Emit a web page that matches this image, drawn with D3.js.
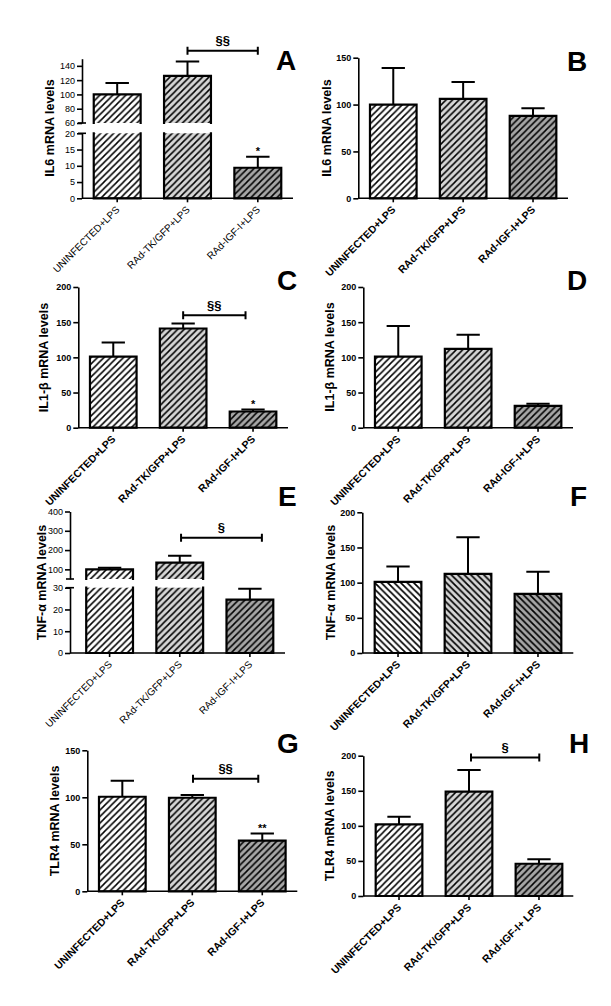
<!DOCTYPE html>
<html><head><meta charset="utf-8">
<script src="https://cdn.jsdelivr.net/npm/d3@7"></script>
<style>body{margin:0;background:#fff} svg{display:block}</style>
</head><body><svg id="c" width="611" height="1006"></svg>
<script>
// ---------- DATA ----------
const categories = ["UNINFECTED+LPS", "RAd-TK/GFP+LPS", "RAd-IGF-I+LPS"];
const categoriesH = ["UNINFECTED+LPS", "RAd-TK/GFP+LPS", "RAd-IGF-I+ LPS"];

const il6A_mean = [100, 126, 9.4],   il6A_sem = [16, 20, 3.4];
const il6B_mean = [100, 106, 88],    il6B_sem = [39, 18, 8];
const il1bC_mean = [101, 141, 23],   il1bC_sem = [20, 7, 3];
const il1bD_mean = [101, 112, 31],   il1bD_sem = [43.5, 20, 3];
const tnfE_mean = [100, 135, 24.5],  tnfE_sem = [8, 35, 5];
const tnfF_mean = [101, 112.5, 84],  tnfF_sem = [22, 52, 31.5];
const tlr4G_mean = [100.6, 99.5, 54], tlr4G_sem = [17, 3, 7.5];
const tlr4H_mean = [102, 148.7, 46], tlr4H_sem = [11, 31, 6.5];

const ticksA_low = [0, 5, 10, 15, 20], ticksA_high = [60, 80, 100, 120, 140];
const ticksE_low = [0, 10, 20, 30],   ticksE_high = [100, 200, 300, 400];
const ticks150 = [0, 50, 100, 150];
const ticks200 = [0, 50, 100, 150, 200];

const domA_low = [0, 20], domA_high = [60, 150];
const domE_low = [0, 30], domE_high = [50, 400];

const starsA = ["", "", "*"], starsC = ["", "", "*"], starsG = ["", "", "**"];

// ---------- DRAWING ----------
const FONT = "'Liberation Sans', Arial, Helvetica, sans-serif";
const svg = d3.select("#c");
const defs = svg.append("defs");
const fills = ["#ffffff", "#d6d6d6", "#a6a6a6"];
const HS = 6.5;
["fwd", "back"].forEach(dir => fills.forEach((f, i) => {
  const p = defs.append("pattern").attr("id", `h-${dir}-${i}`)
    .attr("patternUnits", "userSpaceOnUse").attr("width", HS).attr("height", HS);
  p.append("rect").attr("width", HS).attr("height", HS).attr("fill", f);
  const d = dir === "fwd"
    ? `M0,${HS} L${HS},0 M${-HS/2},${HS/2} L${HS/2},${-HS/2} M${HS/2},${HS*1.5} L${HS*1.5},${HS/2}`
    : `M0,0 L${HS},${HS} M${-HS/2},${HS/2} L${HS/2},${HS*1.5} M${HS/2},${-HS/2} L${HS*1.5},${HS/2}`;
  p.append("path").attr("d", d).attr("stroke", "#000").attr("stroke-width", dir === "fwd" ? 1.5 : 1.7);
}));

function drawPanel(P) {
  const g = svg.append("g");
  const weight = P.bold ? "bold" : "normal";
  const x = d3.scaleBand().domain(P.cats).range(P.band).paddingInner(0.333).paddingOuter(0.167);
  const bw = x.bandwidth();
  const segs = P.segs.map(s => ({ ...s, scale: d3.scaleLinear().domain(s.domain).range(s.range) }));
  const yBase = segs[0].scale(0);
  const segFor = v => segs.find(s => v <= s.domain[1]) || segs[segs.length - 1];
  const y = v => segFor(v).scale(v);

  // bars
  P.mean.forEach((v, i) => {
    const x0 = x(P.cats[i]), x1 = x0 + bw;
    segs.forEach((s, si) => {
      if (si > 0 && v <= s.domain[0]) return;
      const lo = si === 0 ? 0 : s.domain[0];
      const hi = Math.min(v, s.domain[1]);
      if (hi <= lo) return;
      const yb = s.scale(lo), yt = s.scale(hi);
      const topClosed = v <= s.domain[1], botClosed = si === 0;
      g.append("rect").attr("x", x0).attr("y", yt).attr("width", bw).attr("height", yb - yt)
        .attr("fill", `url(#h-${P.hatch}-${i})`);
      let d = `M${x0},${yb} V${yt}` + (topClosed ? ` H${x1}` : ` M${x1},${yt}`) + ` V${yb}` + (botClosed ? ` H${x0}` : "");
      g.append("path").attr("d", d).attr("fill", "none").attr("stroke", "#000")
        .attr("stroke-width", 2.2).attr("stroke-linejoin", "miter").attr("stroke-linecap", "square");
    });
    // error bar
    const cx = x0 + bw / 2, top = y(v + P.sem[i]);
    g.append("path").attr("d", `M${cx},${y(v)} V${top} M${cx - bw / 4},${top} H${cx + bw / 4}`)
      .attr("fill", "none").attr("stroke", "#000").attr("stroke-width", 2);
    if (P.stars && P.stars[i]) {
      g.append("text").attr("x", cx).attr("y", top - 1.5).attr("text-anchor", "middle")
        .attr("font-family", FONT).attr("font-weight", "bold").attr("font-size", 11).text(P.stars[i]);
    }
  });

  // y axis segments
  segs.forEach((s, si) => {
    const ag = g.append("g").attr("transform", `translate(${P.axisX[0]},0)`)
      .call(d3.axisLeft(s.scale).tickValues(s.ticks).tickSize(5).tickSizeOuter(0).tickPadding(2));
    ag.attr("font-family", FONT).attr("font-size", P.tickFont).attr("font-weight", weight);
    ag.select(".domain").attr("stroke", "#000").attr("stroke-width", 1.6);
    ag.selectAll(".tick line").attr("stroke", "#000").attr("stroke-width", 1.6);
    ag.selectAll(".tick text").attr("fill", "#000");
    if (segs.length > 1) {
      const yEnd = si === 0 ? s.range[1] : s.range[0];
      ag.append("path").attr("d", `M-4,${yEnd} H4`).attr("stroke", "#000").attr("stroke-width", 1.6);
    }
  });

  // x axis
  g.append("path").attr("d", `M${P.axisX[0]},${yBase} H${P.axisX[1]}`).attr("stroke", "#000").attr("stroke-width", 1.6);
  const xg = g.append("g").attr("transform", `translate(0,${yBase})`)
    .call(d3.axisBottom(x).tickSize(4).tickSizeOuter(0));
  xg.select(".domain").remove();
  xg.selectAll(".tick line").attr("stroke", "#000").attr("stroke-width", 1.6);
  xg.selectAll(".tick text")
    .attr("fill", "#000").attr("font-family", FONT).attr("font-weight", weight).attr("font-size", P.labFont)
    .attr("x", 0).attr("y", 0).attr("dy", 0).attr("text-anchor", "end")
    .attr("transform", `translate(${P.labOff[0]},${P.labOff[1]}) rotate(-45)`);

  // y label
  g.append("text").attr("transform", `translate(${P.ylab[0]},${P.ylab[1]}) rotate(-90)`)
    .attr("text-anchor", "middle").attr("font-family", FONT).attr("font-weight", "bold")
    .attr("font-size", 12.5).text(P.ylabel);

  // panel letter
  g.append("text").attr("x", P.letter[0]).attr("y", P.letter[1]).attr("font-family", FONT)
    .attr("font-weight", "bold").attr("font-size", 28).text(P.id);

  // significance bracket
  if (P.sig) {
    const xa = x(P.cats[1]) + bw / 2 + P.sig.dx[0], xb = x(P.cats[2]) + bw / 2 + P.sig.dx[1];
    const yy = y(P.sig.level);
    g.append("path").attr("d", `M${xa},${yy} H${xb} M${xa},${yy - 4} V${yy + 4} M${xb},${yy - 4} V${yy + 4}`)
      .attr("stroke", "#000").attr("stroke-width", 2).attr("fill", "none");
    g.append("text").attr("x", (xa + xb) / 2).attr("y", yy - 5.5).attr("text-anchor", "middle")
      .attr("font-family", FONT).attr("font-weight", "bold").attr("font-size", 13).text(P.sig.text);
  }
}

const panels = [
  { id: "A", cats: categories, mean: il6A_mean, sem: il6A_sem, bold: false, hatch: "fwd",
    axisX: [82, 293], band: [82, 293], tickFont: 9, labFont: 10, labOff: [3, 12],
    segs: [{ domain: domA_low, range: [198.3, 133.3], ticks: ticksA_low },
           { domain: domA_high, range: [123, 58.7], ticks: ticksA_high }],
    ylabel: "IL6 mRNA levels", ylab: [54, 128], letter: [276, 70],
    sig: { text: "§§", level: 161, dx: [0, 0] }, stars: starsA },
  { id: "B", cats: categories, mean: il6B_mean, sem: il6B_sem, bold: true, hatch: "fwd",
    axisX: [358.3, 568], band: [358.3, 568], tickFont: 9, labFont: 10.5, labOff: [3, 12],
    segs: [{ domain: [0, 150], range: [198.3, 57.7], ticks: ticks150 }],
    ylabel: "IL6 mRNA levels", ylab: [331, 128], letter: [567, 70.5] },
  { id: "C", cats: categories, mean: il1bC_mean, sem: il1bC_sem, bold: true, hatch: "fwd",
    axisX: [78.3, 288], band: [78.3, 288], tickFont: 9, labFont: 10.5, labOff: [3, 12],
    segs: [{ domain: [0, 200], range: [427.7, 287], ticks: ticks200 }],
    ylabel: "IL1-β mRNA levels", ylab: [48, 357.5], letter: [277, 290],
    sig: { text: "§§", level: 160, dx: [0, -7.5] }, stars: starsC },
  { id: "D", cats: categories, mean: il1bD_mean, sem: il1bD_sem, bold: true, hatch: "fwd",
    axisX: [363.3, 573], band: [363.3, 573], tickFont: 9, labFont: 10.5, labOff: [3, 12],
    segs: [{ domain: [0, 200], range: [427.7, 287], ticks: ticks200 }],
    ylabel: "IL1-β mRNA levels", ylab: [334, 357], letter: [567, 290] },
  { id: "E", cats: categories, mean: tnfE_mean, sem: tnfE_sem, bold: false, hatch: "fwd",
    axisX: [70, 285], band: [74.5, 285], tickFont: 9, labFont: 10, labOff: [3, 12],
    segs: [{ domain: domE_low, range: [653, 587.7], ticks: ticksE_low },
           { domain: domE_high, range: [579, 511.5], ticks: ticksE_high }],
    ylabel: "TNF-α mRNA levels", ylab: [46, 582.5], letter: [278, 506],
    sig: { text: "§", level: 264, dx: [1.3, 12] } },
  { id: "F", cats: categories, mean: tnfF_mean, sem: tnfF_sem, bold: true, hatch: "back",
    axisX: [362.3, 573.3], band: [363, 573], tickFont: 9, labFont: 10.5, labOff: [3, 12],
    segs: [{ domain: [0, 200], range: [653, 512.3], ticks: ticks200 }],
    ylabel: "TNF-α mRNA levels", ylab: [335, 582.5], letter: [570, 506] },
  { id: "G", cats: categories, mean: tlr4G_mean, sem: tlr4G_sem, bold: true, hatch: "fwd",
    axisX: [87.3, 297.3], band: [87.3, 297.3], tickFont: 9, labFont: 10.5, labOff: [3, 12],
    segs: [{ domain: [0, 150], range: [891.3, 750.3], ticks: ticks150 }],
    ylabel: "TLR4  mRNA levels", ylab: [59, 821], letter: [277, 753],
    sig: { text: "§§", level: 119.8, dx: [0.7, -4] }, stars: starsG },
  { id: "H", cats: categoriesH, mean: tlr4H_mean, sem: tlr4H_sem, bold: true, hatch: "fwd",
    axisX: [363.3, 573.3], band: [364, 574], tickFont: 9, labFont: 10.5, labOff: [3, 12],
    segs: [{ domain: [0, 200], range: [896, 755.7], ticks: ticks200 }],
    ylabel: "TLR4  mRNA levels", ylab: [334, 826], letter: [569, 753],
    sig: { text: "§", level: 197.6, dx: [2, 0.3] } }
];
panels.forEach(drawPanel);
</script></body></html>
